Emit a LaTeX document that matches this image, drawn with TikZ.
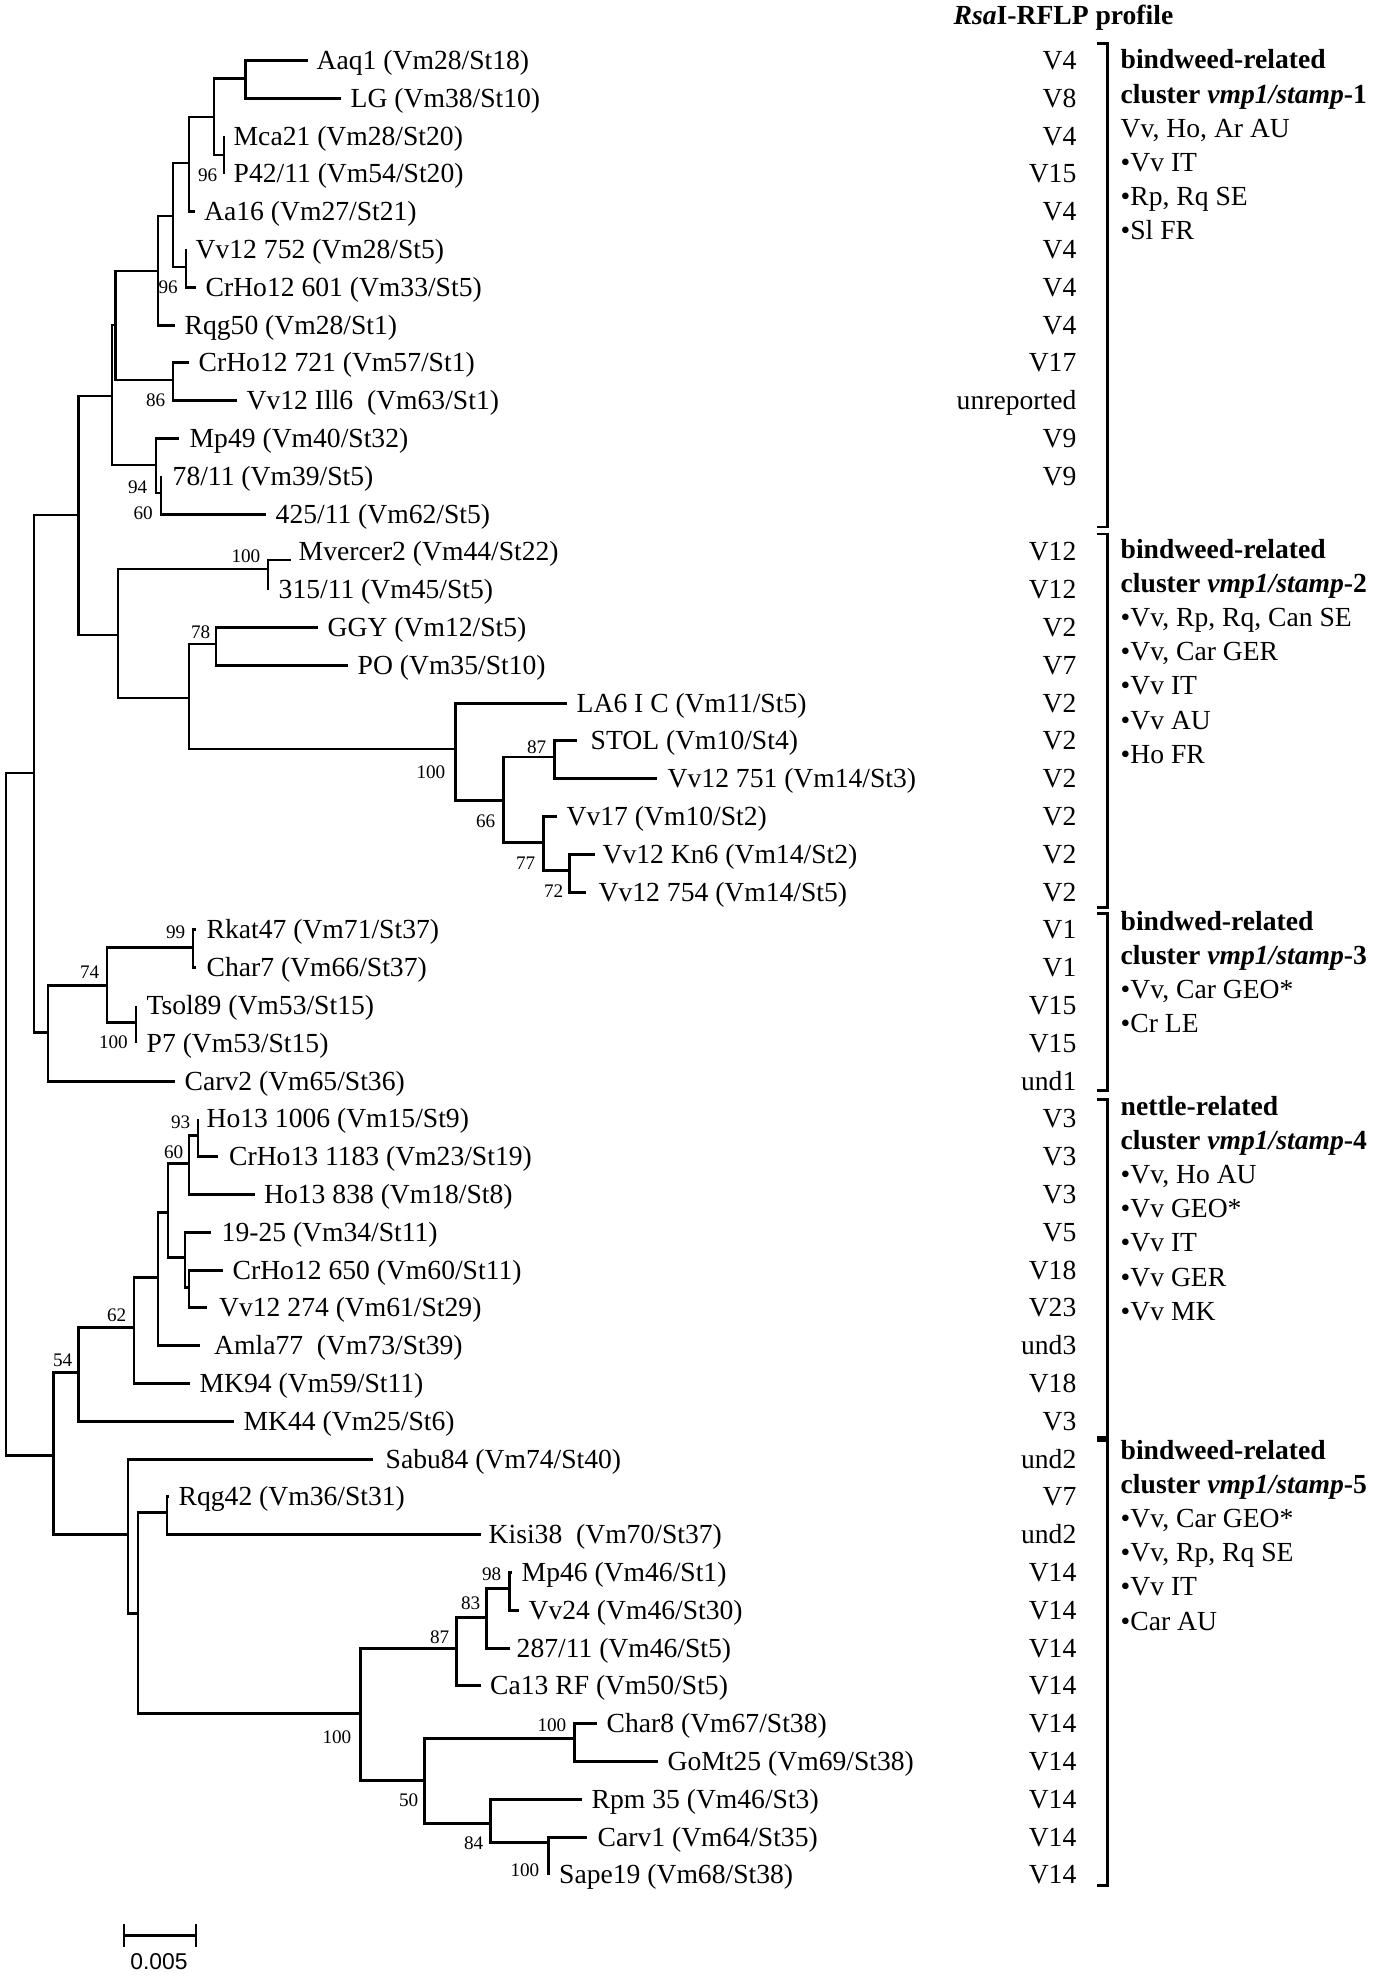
\documentclass[tikz,border=0pt]{standalone}
\usepackage{fontspec}
\setmainfont{Liberation Serif}
\newfontfamily\scalefont{Liberation Sans}
\newcommand\lf[4]{\coordinate (t#1) at (#2,{60.5+37.8*#1}); \node[leaf] (L#1) at (#3,{69.5+37.8*#1}) {#4};}
\begin{document}
\begin{tikzpicture}[x=0.01cm,y=-0.01cm,
  branch/.style={line width=0.85pt},
  brk/.style={line width=0.85pt},
  leaf/.style={anchor=base west,inner sep=0pt,font=\fontsize{7.85pt}{9pt}\selectfont},
  rflp/.style={anchor=base east,inner sep=0pt,font=\fontsize{7.85pt}{9pt}\selectfont},
  clus/.style={anchor=base west,inner sep=0pt,font=\fontsize{7.85pt}{9pt}\selectfont},
  boot/.style={anchor=east,inner sep=0pt,font=\fontsize{5.45pt}{6pt}\selectfont}]
\useasboundingbox (0,0) rectangle (1382,1976);

% internal nodes
\coordinate (root) at (6,1114);
\coordinate (nH) at (34,773);
\coordinate (nG) at (78.5,515);
\coordinate (nF) at (112,396);
\coordinate (nE) at (115.5,325);
\coordinate (nD) at (158,271);
\coordinate (nC) at (173,216);
\coordinate (nB) at (189,163);
\coordinate (nA) at (214,117);
\coordinate (nAL) at (245.7,79);
\coordinate (nMP) at (224,155);
\coordinate (nVC) at (186,267);
\coordinate (nCI) at (173,380);
\coordinate (nMp) at (156,465);
\coordinate (n78) at (161,493);
\coordinate (nI) at (118,635);
\coordinate (nMv) at (268,569);
\coordinate (nJ) at (189,698);
\coordinate (nGP) at (216,644);
\coordinate (nK) at (455,749);
\coordinate (nL) at (503.5,800);
\coordinate (nSV) at (554.6,757);
\coordinate (nM) at (543,842);
\coordinate (nKV) at (569.6,870);
\coordinate (nN) at (48,1032);
\coordinate (nO) at (107,985);
\coordinate (nRC) at (193,947);
\coordinate (nTP) at (136,1022);
\coordinate (nV) at (53.6,1455);
\coordinate (nU) at (78.5,1372);
\coordinate (nT) at (134,1327);
\coordinate (nS) at (158,1277);
\coordinate (nQ) at (168,1212);
\coordinate (nP) at (189,1163);
\coordinate (nHC) at (198,1135);
\coordinate (nR) at (185,1257);
\coordinate (nCV) at (189,1287);
\coordinate (nW) at (128,1534);
\coordinate (nX) at (138,1613);
\coordinate (nRK) at (167,1512);
\coordinate (nY) at (360,1713);
\coordinate (n87) at (456,1648);
\coordinate (n83) at (486,1617);
\coordinate (n98) at (509,1588);
\coordinate (nZ) at (424,1780);
\coordinate (nCG) at (574.5,1738);
\coordinate (n84) at (490,1823);
\coordinate (nCS) at (548,1842);

% leaves
\lf{0}{307.8}{316}{Aaq1 (Vm28/St18)}
\lf{1}{341}{350}{LG (Vm38/St10)}
\lf{2}{224}{233}{Mca21 (Vm28/St20)}
\lf{3}{224}{233}{P42/11 (Vm54/St20)}
\lf{4}{195}{203.5}{Aa16 (Vm27/St21)}
\lf{5}{186}{195}{Vv12 752 (Vm28/St5)}
\lf{6}{196}{205}{CrHo12 601 (Vm33/St5)}
\lf{7}{175}{184}{Rqg50 (Vm28/St1)}
\lf{8}{189}{198}{CrHo12 721 (Vm57/St1)}
\lf{9}{237}{246}{Vv12 Ill6\enspace(Vm63/St1)}
\lf{10}{178.5}{189}{Mp49 (Vm40/St32)}
\lf{11}{161}{172}{78/11 (Vm39/St5)}
\lf{12}{266}{275}{425/11 (Vm62/St5)}
\coordinate (t13) at (291,560);
\node[leaf] (L13) at (298,560.9) {Mvercer2 (Vm44/St22)};
\lf{14}{268}{278}{315/11 (Vm45/St5)}
\lf{15}{318}{327}{GGY (Vm12/St5)}
\lf{16}{348}{357}{PO (Vm35/St10)}
\lf{17}{567}{576}{LA6 I C (Vm11/St5)}
\lf{18}{577}{590}{STOL (Vm10/St4)}
\lf{19}{657}{667}{Vv12 751 (Vm14/St3)}
\lf{20}{557}{566}{Vv17 (Vm10/St2)}
\lf{21}{594.6}{602}{Vv12 Kn6 (Vm14/St2)}
\lf{22}{585.6}{598}{Vv12 754 (Vm14/St5)}
\lf{23}{196}{206}{Rkat47 (Vm71/St37)}
\lf{24}{196}{206}{Char7 (Vm66/St37)}
\lf{25}{136}{146}{Tsol89 (Vm53/St15)}
\lf{26}{136}{146}{P7 (Vm53/St15)}
\lf{27}{175}{184}{Carv2 (Vm65/St36)}
\lf{28}{198}{206}{Ho13 1006 (Vm15/St9)}
\lf{29}{218}{228.5}{CrHo13 1183 (Vm23/St19)}
\lf{30}{255}{263.5}{Ho13 838 (Vm18/St8)}
\lf{31}{211}{221}{19-25 (Vm34/St11)}
\lf{32}{223}{232}{CrHo12 650 (Vm60/St11)}
\lf{33}{207}{218.5}{Vv12 274 (Vm61/St29)}
\lf{34}{200}{213.5}{Amla77\enspace(Vm73/St39)}
\lf{35}{190}{199}{MK94 (Vm59/St11)}
\lf{36}{234}{243}{MK44 (Vm25/St6)}
\lf{37}{373}{385}{Sabu84 (Vm74/St40)}
\lf{38}{168.5}{178}{Rqg42 (Vm36/St31)}
\lf{39}{481}{488}{Kisi38\enspace(Vm70/St37)}
\lf{40}{512}{521}{Mp46 (Vm46/St1)}
\lf{41}{518.5}{528}{Vv24 (Vm46/St30)}
\lf{42}{509.5}{516}{287/11 (Vm46/St5)}
\lf{43}{481}{489.5}{Ca13 RF (Vm50/St5)}
\lf{44}{597}{606}{Char8 (Vm67/St38)}
\lf{45}{658}{667}{GoMt25 (Vm69/St38)}
\lf{46}{581.5}{591}{Rpm 35 (Vm46/St3)}
\lf{47}{587}{597}{Carv1 (Vm64/St35)}
\lf{48}{548}{558.5}{Sape19 (Vm68/St38)}

% branches
\foreach \p/\c in {root/nH, root/nV, nH/nG, nH/nN, nG/nF, nG/nI, nF/nE, nF/nMp,
  nE/nD, nE/nCI, nD/nC, nD/t7, nC/nB, nC/nVC, nB/nA, nB/t4, nA/nAL, nA/nMP,
  nAL/t0, nAL/t1, nMP/t2, nMP/t3, nVC/t5, nVC/t6, nCI/t8, nCI/t9,
  nMp/t10, nMp/n78, n78/t11, n78/t12, nI/nMv, nI/nJ, nMv/t13, nMv/t14,
  nJ/nGP, nJ/nK, nGP/t15, nGP/t16, nK/t17, nK/nL, nL/nSV, nL/nM,
  nSV/t18, nSV/t19, nM/t20, nM/nKV, nKV/t21, nKV/t22,
  nN/nO, nN/t27, nO/nRC, nO/nTP, nRC/t23, nRC/t24, nTP/t25, nTP/t26,
  nV/nU, nV/nW, nU/nT, nU/t36, nT/nS, nT/t35, nS/nQ, nS/t34,
  nQ/nP, nQ/nR, nP/nHC, nP/t30, nHC/t28, nHC/t29, nR/t31, nR/nCV,
  nCV/t32, nCV/t33, nW/t37, nW/nX, nX/nRK, nX/nY, nRK/t38, nRK/t39,
  nY/n87, nY/nZ, n87/n83, n87/t43, n83/n98, n83/t42, n98/t40, n98/t41,
  nZ/nCG, nZ/n84, nCG/t44, nCG/t45, n84/t46, n84/nCS, nCS/t47, nCS/t48}
  \draw[branch] (\p) |- (\c);

% bootstrap values
\foreach \v/\x/\y [count=\k] in {96/218/175, 96/178.5/287, 86/166/400, 94/148/487,
  60/153.5/513, 100/261/556, 78/211/632, 100/446/772, 87/547/747, 66/496/821,
  77/536/863, 72/564/891, 99/186/932, 74/100/972, 100/128.5/1042, 93/191/1122,
  60/184/1152, 62/127/1315, 54/73/1360, 98/502/1574, 83/481/1603, 87/450/1637,
  100/352/1737, 50/419/1800, 100/567/1725, 84/484/1843, 100/540/1870}
  \node[boot] (bs\k) at (\x,\y) {\v};

% RFLP column
\node[anchor=base west,inner sep=0pt,font=\bfseries\fontsize{7.85pt}{9pt}\selectfont] (head) at (953,25) {\textit{Rsa}I-RFLP profile};
\foreach \r/\v in {0/V4, 1/V8, 2/V4, 3/V15, 4/V4, 5/V4, 6/V4, 7/V4, 8/V17, 9/unreported,
  10/V9, 11/V9, 13/V12, 14/V12, 15/V2, 16/V7, 17/V2, 18/V2, 19/V2, 20/V2, 21/V2, 22/V2,
  23/V1, 24/V1, 25/V15, 26/V15, 27/und1, 28/V3, 29/V3, 30/V3, 31/V5, 32/V18, 33/V23,
  34/und3, 35/V18, 36/V3, 37/und2, 38/V7, 39/und2, 40/V14, 41/V14, 42/V14, 43/V14,
  44/V14, 45/V14, 46/V14, 47/V14, 48/V14}
  \node[rflp] (rf\r) at (1077,{69.5+37.8*\r}) {\v};

% brackets
\foreach \n/\a/\b in {1/44/527, 2/534/907, 3/913/1090, 4/1099/1437, 5/1440/1885} {
  \coordinate (bt\n) at (1097,\a);
  \coordinate (bb\n) at (1097,\b);
  \draw[brk] (bt\n) -- ++(10,0) |- (bb\n);
}

% cluster texts
\foreach \t [count=\i from 0] in {{\textbf{bindweed-related}}, {\textbf{cluster \textit{vmp1/stamp}-1}},
  {Vv, Ho, Ar AU}, {•Vv IT}, {•Rp, Rq SE}, {•Sl FR}}
  \node[clus] (ca\i) at (1120,{69+34.2*\i}) {\t};
\foreach \t [count=\i from 0] in {{\textbf{bindweed-related}}, {\textbf{cluster \textit{vmp1/stamp}-2}},
  {•Vv, Rp, Rq, Can SE}, {•Vv, Car GER}, {•Vv IT}, {•Vv AU}, {•Ho FR}}
  \node[clus] (cb\i) at (1120,{558+34.2*\i}) {\t};
\foreach \t [count=\i from 0] in {{\textbf{bindwed-related}}, {\textbf{cluster \textit{vmp1/stamp}-3}},
  {•Vv, Car GEO*}, {•Cr LE}}
  \node[clus] (cc\i) at (1120,{930+34.2*\i}) {\t};
\foreach \t [count=\i from 0] in {{\textbf{nettle-related}}, {\textbf{cluster \textit{vmp1/stamp}-4}},
  {•Vv, Ho AU}, {•Vv GEO*}, {•Vv IT}, {•Vv GER}, {•Vv MK}}
  \node[clus] (cd\i) at (1120,{1115+34.2*\i}) {\t};
\foreach \t [count=\i from 0] in {{\textbf{bindweed-related}}, {\textbf{cluster \textit{vmp1/stamp}-5}},
  {•Vv, Car GEO*}, {•Vv, Rp, Rq SE}, {•Vv IT}, {•Car AU}}
  \node[clus] (ce\i) at (1120,{1459+34.2*\i}) {\t};

% scale bar
\coordinate (sbL) at (124,1935);
\coordinate (sbR) at (196,1935);
\draw[branch] (sbL) -- (sbR);
\draw[branch] (sbL) ++(0,-11.5) -- ++(0,23);
\draw[branch] (sbR) ++(0,-11.5) -- ++(0,23);
\node[inner sep=0pt,font=\scalefont\fontsize{6.5pt}{7pt}\selectfont] (sbT) at (159,1962) {0.005};
\end{tikzpicture}
\end{document}
